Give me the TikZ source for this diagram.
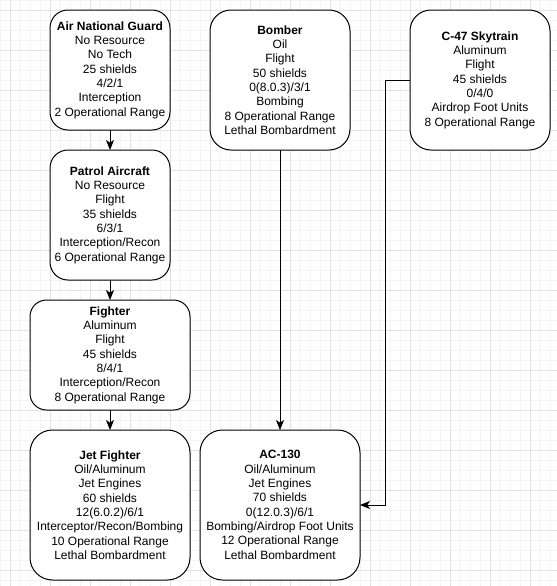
\documentclass[tikz,border=0pt]{standalone}
\usepackage{fontspec}
\setmainfont{Liberation Sans}
\usetikzlibrary{arrows.meta}
\tikzset{
  unit/.style={draw=black, line width=0.75pt, fill=white, align=center, inner sep=0pt, outer sep=0pt,
    font=\fontsize{9}{10.75}\selectfont},
  conn/.style={line width=0.75pt, -{Stealth[length=7.5pt,width=6pt,inset=2pt]}},
  minorgrid/.style={draw={rgb,255:red,244;green,244;blue,244}, line width=0.75pt},
  majorgrid/.style={draw={rgb,255:red,226;green,226;blue,226}, line width=0.75pt},
}
\begin{document}
\begin{tikzpicture}[x=0.75pt,y=-0.75pt]
\fill[white] (0,0) rectangle (557,586);
\useasboundingbox (0,0) rectangle (557,586);
% grid
\foreach \i in {0,...,55} {\draw[minorgrid] (10*\i,0) -- (10*\i,586);}
\foreach \i in {0,...,58} {\draw[minorgrid] (0,10*\i) -- (557,10*\i);}
\foreach \i in {0,...,13} {\draw[majorgrid] (10+40*\i,0) -- (10+40*\i,586);}
\foreach \i in {0,...,14} {\draw[majorgrid] (0,10+40*\i) -- (557,10+40*\i);}

\node[unit, minimum width=120*0.75pt, minimum height=120*0.75pt, rounded corners=13.5pt] (ang) at (110,70)
  {\textbf{Air National Guard}\\No Resource\\No Tech\\25 shields\\4/2/1\\Interception\\2 Operational Range};
\node[unit, minimum width=120*0.75pt, minimum height=130*0.75pt, rounded corners=13.5pt] (patrol) at (110,215)
  {\textbf{Patrol Aircraft}\\No Resource\\Flight\\35 shields\\6/3/1\\Interception/Recon\\6 Operational Range};
\node[unit, minimum width=160*0.75pt, minimum height=110*0.75pt, rounded corners=12.4pt] (fighter) at (110,355)
  {\textbf{Fighter}\\Aluminum\\Flight\\45 shields\\8/4/1\\Interception/Recon\\8 Operational Range};
\node[unit, minimum width=160*0.75pt, minimum height=150*0.75pt, rounded corners=16.9pt] (jet) at (110,505)
  {\textbf{Jet Fighter}\\Oil/Aluminum\\Jet Engines\\60 shields\\12(6.0.2)/6/1\\Interceptor/Recon/Bombing\\10 Operational Range\\Lethal Bombardment};
\node[unit, minimum width=140*0.75pt, minimum height=140*0.75pt, rounded corners=15.75pt] (bomber) at (280,80)
  {\textbf{Bomber}\\Oil\\Flight\\50 shields\\0(8.0.3)/3/1\\Bombing\\8 Operational Range\\Lethal Bombardment};
\node[unit, minimum width=140*0.75pt, minimum height=140*0.75pt, rounded corners=15.75pt] (c47) at (480,80)
  {\textbf{C-47 Skytrain}\\Aluminum\\Flight\\45 shields\\0/4/0\\Airdrop Foot Units\\8 Operational Range};
\node[unit, minimum width=160*0.75pt, minimum height=150*0.75pt, rounded corners=16.9pt] (ac) at (280,505)
  {\textbf{AC-130}\\Oil/Aluminum\\Jet Engines\\70 shields\\0(12.0.3)/6/1\\Bombing/Airdrop Foot Units\\12 Operational Range\\Lethal Bombardment};

\draw[conn] (ang) -- (patrol);
\draw[conn] (patrol) -- (fighter);
\draw[conn] (fighter) -- (jet);
\draw[conn] (bomber) -- (ac);
\coordinate (c1) at (385,80);
\coordinate (c2) at (385,505);
\draw[conn] (c47.west) -- (c1) -- (c2) -- (ac.east);
\end{tikzpicture}
\end{document}
